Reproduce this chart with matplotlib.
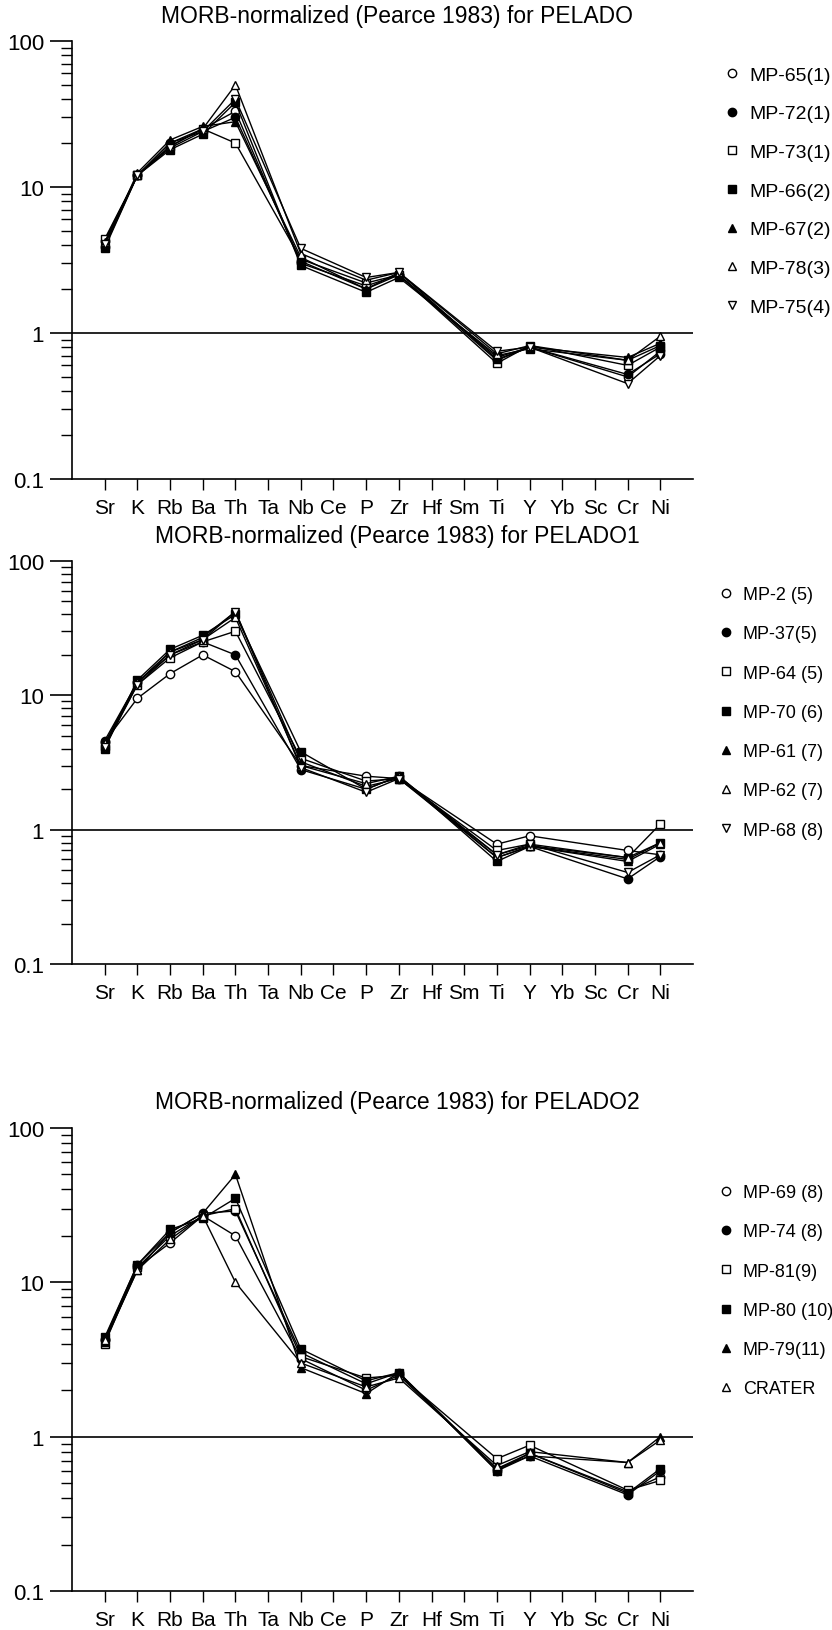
import numpy as np
import matplotlib
matplotlib.use("Agg")
import matplotlib.pyplot as plt
from matplotlib.ticker import LogLocator, NullFormatter, FixedLocator, FixedFormatter

plt.rcParams['font.family'] = ['Liberation Sans', 'DejaVu Sans']

elements = ["Sr", "K", "Rb", "Ba", "Th", "Ta", "Nb", "Ce", "P", "Zr", "Hf",
            "Sm", "Ti", "Y", "Yb", "Sc", "Cr", "Ni"]
# elements actually analysed (others are gaps bridged by the lines)
measured = ["Sr", "K", "Rb", "Ba", "Th", "Nb", "P", "Zr", "Ti", "Y", "Cr", "Ni"]

# PELADO
pelado_names = ["MP-65(1)", "MP-72(1)", "MP-73(1)", "MP-66(2)", "MP-67(2)", "MP-78(3)", "MP-75(4)"]
mp65 = [4.3, 12.0, 20.0, 25.0, 33.0, 3.0, 2.1, 2.5, 0.65, 0.80, 0.50, 0.75]
mp72 = [3.9, 12.0, 20.0, 24.0, 30.0, 3.1, 2.0, 2.5, 0.68, 0.80, 0.52, 0.72]
mp73 = [4.4, 12.0, 19.0, 25.0, 20.0, 3.2, 2.2, 2.5, 0.62, 0.82, 0.60, 0.80]
mp66 = [3.8, 12.0, 18.0, 23.0, 38.0, 2.9, 1.9, 2.4, 0.70, 0.78, 0.65, 0.82]
mp67 = [4.0, 12.5, 21.0, 26.0, 28.0, 3.3, 2.0, 2.6, 0.66, 0.80, 0.68, 0.85]
mp78 = [4.2, 12.0, 19.0, 25.0, 50.0, 3.5, 2.3, 2.6, 0.72, 0.82, 0.65, 0.95]
mp75 = [4.1, 12.0, 18.5, 24.0, 40.0, 3.8, 2.4, 2.6, 0.75, 0.80, 0.45, 0.70]

# PELADO1
pelado1_names = ["MP-2 (5)", "MP-37(5)", "MP-64 (5)", "MP-70 (6)", "MP-61 (7)", "MP-62 (7)", "MP-68 (8)"]
mp2 = [4.5, 9.5, 14.5, 20.0, 15.0, 3.0, 2.5, 2.4, 0.78, 0.90, 0.70, 0.65]
mp37 = [4.6, 12.5, 20.0, 25.0, 20.0, 2.8, 2.0, 2.5, 0.62, 0.75, 0.43, 0.63]
mp64 = [4.2, 12.0, 19.0, 25.0, 30.0, 3.4, 2.3, 2.4, 0.70, 0.78, 0.62, 1.10]
mp70 = [4.0, 13.0, 22.0, 28.0, 40.0, 3.8, 2.0, 2.5, 0.58, 0.75, 0.60, 0.80]
mp61 = [4.3, 12.5, 21.0, 27.0, 42.0, 3.2, 2.1, 2.4, 0.62, 0.75, 0.58, 0.78]
mp62 = [4.4, 12.5, 21.0, 26.0, 38.0, 3.0, 2.2, 2.5, 0.65, 0.76, 0.62, 0.80]
mp68 = [4.1, 12.0, 20.0, 26.0, 42.0, 2.9, 1.9, 2.4, 0.65, 0.78, 0.48, 0.65]

# PELADO2
pelado2_names = ["MP-69 (8)", "MP-74 (8)", "MP-81(9)", "MP-80 (10)", "MP-79(11)", "CRATER"]
mp69 = [4.2, 12.5, 18.0, 27.0, 20.0, 3.2, 2.0, 2.5, 0.62, 0.78, 0.44, 0.55]
mp74 = [4.3, 13.0, 21.0, 28.0, 29.0, 3.5, 2.2, 2.6, 0.60, 0.75, 0.42, 0.60]
mp81 = [4.0, 12.5, 20.0, 27.0, 30.0, 3.3, 2.4, 2.5, 0.72, 0.88, 0.45, 0.52]
mp80 = [4.4, 13.0, 22.0, 26.0, 35.0, 3.7, 2.3, 2.6, 0.60, 0.78, 0.43, 0.62]
mp79 = [4.1, 12.0, 21.0, 28.0, 50.0, 2.8, 1.9, 2.6, 0.62, 0.75, 0.68, 1.00]
crater = [4.2, 12.0, 19.0, 27.0, 10.0, 3.0, 2.1, 2.4, 0.65, 0.80, 0.68, 0.95]

styles7 = [dict(marker='o', mfc='white'), dict(marker='o', mfc='black'),
           dict(marker='s', mfc='white'), dict(marker='s', mfc='black'),
           dict(marker='^', mfc='black'), dict(marker='^', mfc='white'),
           dict(marker='v', mfc='white')]
styles6 = styles7[:6]

# axes box in pixels (left, top, right, bottom), legend top-left (x, y),
# legend font size and row spacing
panels = [
    ("MORB-normalized (Pearce 1983) for PELADO", pelado_names,
     [mp65, mp72, mp73, mp66, mp67, mp78, mp75], styles7, [72, 42, 693, 480], (726, 67), 14, 1.085),
    ("MORB-normalized (Pearce 1983) for PELADO1", pelado1_names,
     [mp2, mp37, mp64, mp70, mp61, mp62, mp68], styles7, [72, 562, 693, 965], (721, 587), 13, 1.235),
    ("MORB-normalized (Pearce 1983) for PELADO2", pelado2_names,
     [mp69, mp74, mp81, mp80, mp79, crater], styles6, [72, 1129, 693, 1592], (721, 1185), 13, 1.235),
]

W, H = 832, 1631
fig = plt.figure(figsize=(W / 100, H / 100), dpi=100)

xpos = [elements.index(e) for e in measured]

for title, names, series, styles, (x0, y0, x1, y1), (lx, ly), lfs, lsp in panels:
    ax = fig.add_axes([x0 / W, 1 - y1 / H, (x1 - x0) / W, (y1 - y0) / H])
    handles = []
    for name, vals, st in zip(names, series, styles):
        h, = ax.plot(xpos, vals, color='black', lw=1.0, marker=st['marker'],
                     mfc=st['mfc'], mec='black', ms=6, label=name)
        handles.append(h)
    ax.set_yscale('log')
    ax.set_ylim(0.1, 100)
    ax.set_xlim(-1.0, 18.0)
    ax.axhline(1, color='black', lw=1.2)
    for s in ['top', 'right']:
        ax.spines[s].set_visible(False)
    ax.spines['left'].set_linewidth(1.2)
    ax.spines['bottom'].set_linewidth(1.2)
    ax.yaxis.set_major_locator(FixedLocator([0.1, 1, 10, 100]))
    ax.yaxis.set_major_formatter(FixedFormatter(["0.1", "1", "10", "100"]))
    ax.yaxis.set_minor_locator(LogLocator(base=10, subs=np.arange(2, 10)))
    ax.yaxis.set_minor_formatter(NullFormatter())
    ax.tick_params(axis='y', which='major', length=16, width=1.2, labelsize=16, pad=4)
    ax.tick_params(axis='y', which='minor', length=8, width=1.0)
    ax.set_xticks(range(len(elements)))
    ax.set_xticklabels(elements)
    ax.tick_params(axis='x', length=8, width=1.0, labelsize=15, pad=6)
    fig.text(397 / W, 1 - (y0 - 26) / H, title, fontsize=16.5, ha='center', va='center')
    leg = ax.legend(handles=handles, loc='upper left',
                    bbox_to_anchor=(lx / W, 1 - ly / H),
                    bbox_transform=fig.transFigure,
                    frameon=False, fontsize=lfs, handlelength=0.6, handletextpad=0.6,
                    labelspacing=lsp, borderpad=0, borderaxespad=0)
    for lh in leg.legend_handles:
        lh.set_linestyle('none')

fig.savefig("out.png", dpi=100)
